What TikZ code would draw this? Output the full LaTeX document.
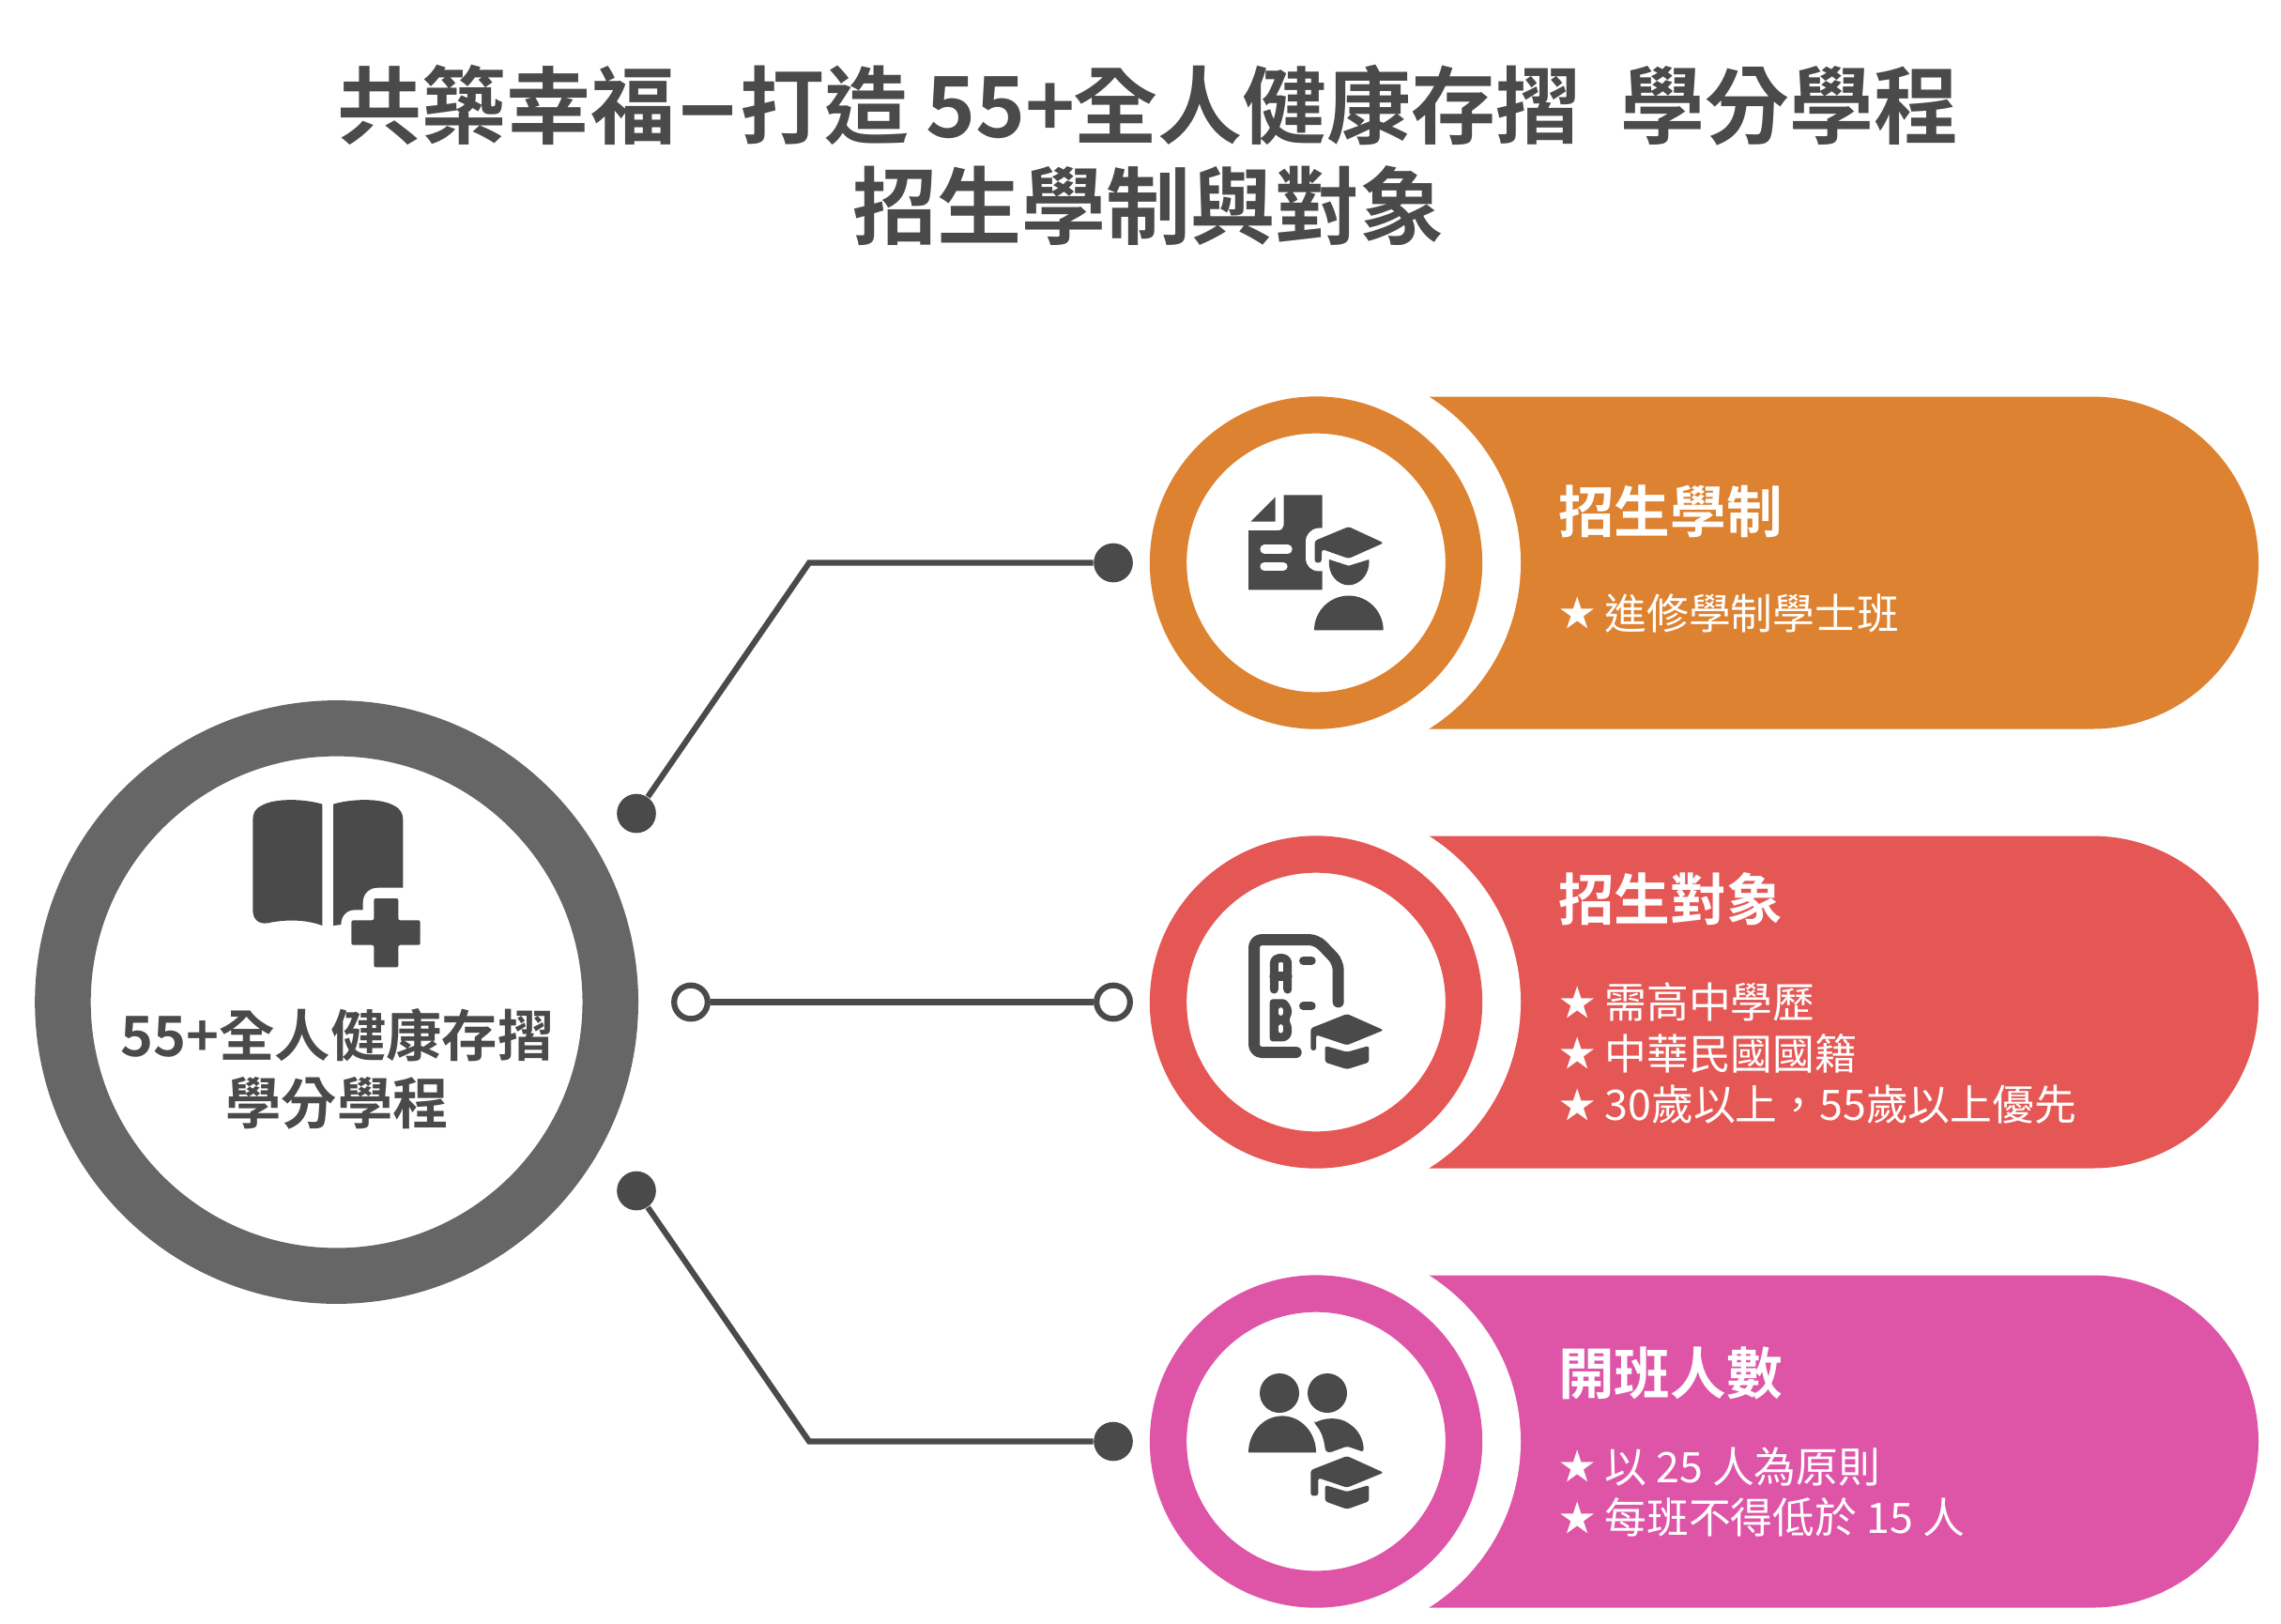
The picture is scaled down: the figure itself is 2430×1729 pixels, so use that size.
\documentclass[tikz,border=0pt]{standalone}
\usepackage{fontspec}
\setmainfont{Noto Sans CJK TC}[BoldFont={Noto Sans CJK TC Bold}]
\newfontfamily\dashfont{Liberation Sans}[BoldFont={Liberation Sans Bold}]
\usepackage{tikz}

\definecolor{inkgray}{HTML}{4A4A4A}
\definecolor{hubgray}{HTML}{666666}
\definecolor{orangerow}{HTML}{DD8230}
\definecolor{redrow}{HTML}{E55754}
\definecolor{pinkrow}{HTML}{DE55A8}

\newcommand{\rowstar}{\raisebox{0.7pt}{\fontsize{11.5}{16.35}\selectfont ★}\hspace{2.85pt}}
\newcommand{\titledash}{\hspace{1.4pt}{\dashfont\fontsize{32}{32}\selectfont –}\hspace{1.4pt}}

\tikzset{
    wire/.style={draw=inkgray, line width=1.85pt},
    dotfull/.style={circle, fill=inkgray, inner sep=0pt, minimum size=12.5pt},
    dotopen/.style={circle, draw=inkgray, fill=white, line width=1.85pt, inner sep=0pt, minimum size=10.7pt},
    hubring/.style={circle, draw=hubgray, fill=white, line width=17.85pt, inner sep=0pt, minimum size=175pt},
    rowring/.style={circle, draw=#1, fill=white, line width=11.8pt, inner sep=0pt, minimum size=94.5pt},
    rowgap/.style={circle, fill=white, inner sep=0pt, minimum size=125.4pt},
    headtext/.style={anchor=west, inner sep=0pt, text=white, font=\fontsize{17.9}{21}\selectfont\bfseries},
    bodytext/.style={anchor=west, inner sep=0pt, text=white, align=left, font=\fontsize{13.44}{16.35}\selectfont},
    titletext/.style={text=inkgray, align=center, font=\fontsize{27}{32.1}\selectfont\bfseries},
    hubtext/.style={text=inkgray, align=center, font=\fontsize{17.8}{21.6}\selectfont\bfseries},
    icon/.style={fill=inkgray},
    iconline/.style={draw=inkgray, line cap=round, line join=round},
}

\begin{document}
\begin{tikzpicture}[x=0.3pt, y=-0.3pt]
    \useasboundingbox (0,0) rectangle (2430,1729);

    \node[titletext] (title) at (1223,165) {共築幸福\titledash 打造\hspace{-0.7pt} 55+\hspace{-0.7pt}全人健康存摺~~\hspace{0.5pt}學分學程\\招生學制與對象};

    % hub
    \node[hubring] (hub) at (358.6,1067.5) {};
    \node[hubtext] (hublabel) at (359,1139) {55+全人健康存摺\\學分學程};

    % pills
    \fill[orangerow] (1402,422.5) -- (2229,422.5) arc[start angle=-90, end angle=90, radius=177] -- (1402,776.5) -- cycle;
    \fill[redrow] (1402,890.5) -- (2229,890.5) arc[start angle=-90, end angle=90, radius=177] -- (1402,1244.5) -- cycle;
    \fill[pinkrow] (1402,1358.5) -- (2229,1358.5) arc[start angle=-90, end angle=90, radius=177] -- (1402,1712.5) -- cycle;

    \node[rowgap] (gapA) at (1411,599.5) {};
    \node[rowgap] (gapB) at (1411,1067.5) {};
    \node[rowgap] (gapC) at (1411,1535.5) {};

    \node[rowring=orangerow] (ringA) at (1402,599.5) {};
    \node[rowring=redrow] (ringB) at (1402,1067.5) {};
    \node[rowring=pinkrow] (ringC) at (1402,1535.5) {};

    % connectors
    \node[dotfull] (startA) at (678,866.5) {};
    \coordinate (bendA) at (862,599.5);
    \node[dotfull] (endA) at (1186,599.5) {};
    \draw[wire] (startA) -- (bendA) -- (endA);

    \node[dotopen] (startB) at (736,1067.5) {};
    \node[dotopen] (endB) at (1186,1067.5) {};
    \draw[wire] (startB) -- (endB);

    \node[dotfull] (startC) at (678,1268.5) {};
    \coordinate (bendC) at (862,1535.5);
    \node[dotfull] (endC) at (1186,1535.5) {};
    \draw[wire] (startC) -- (bendC) -- (endC);

    % row texts
    \node[headtext] (headA) at (1659.5,545) {招生學制};
    \node[bodytext] (bodyA) at (1661,653) {\rowstar 進修學制學士班};

    \node[headtext] (headB) at (1659.5,958) {招生對象};
    \node[bodytext] (bodyB) at (1661,1122) {\rowstar 需高中學歷\\\rowstar 中華民國國籍\\\rowstar 30歲以上，55歲以上優先};

    \node[headtext] (headC) at (1659.5,1462.5) {開班人數};
    \node[bodytext] (bodyC) at (1661,1589.5) {\rowstar 以 25 人為原則\\\rowstar 每班不得低於 15 人};

    % book icon
    \begin{scope}[shift={(240,830)}, x=0.1pt, y=-0.1pt]
        \fill[icon] (310,80) .. controls (260,64) and (160,58) .. (115,85) .. controls (95,95) and (88,110) .. (88,130) -- (88,420) .. controls (88,445) and (105,465) .. (135,460) .. controls (180,450) and (250,445) .. (310,468) -- cycle;
        \fill[icon] (345,80) .. controls (395,64) and (495,58) .. (540,85) .. controls (560,95) and (568,110) .. (568,130) -- (568,440) -- (345,468) -- cycle;
        \fill[white] (370,500) -- (370,462) .. controls (372,435) and (390,418) .. (415,418) -- (440,418) -- (440,392) .. controls (442,365) and (460,347) .. (490,347) -- (640,347) -- (640,640) -- (440,640) -- (440,500) -- cycle;
        \fill[icon, rounded corners=0.6pt] (475,381) -- (553,381) -- (553,451) -- (623,451) -- (623,530) -- (553,530) -- (553,601) -- (475,601) -- (475,530) -- (403,530) -- (403,451) -- (475,451) -- cycle;
    \end{scope}

    % document and graduate icon
    \begin{scope}[shift={(1280,500)}, x=0.1pt, y=-0.1pt]
        \fill[icon] (263,82) -- (386,82) -- (386,385) -- (150,385) -- (150,195) -- (245,195) .. controls (255,195) and (263,187) .. (263,178) -- cycle;
        \fill[icon] (157,167) -- (236,167) -- (236,88) -- cycle;
        \draw[white, line width=2.8pt, line cap=round] (201,255) -- (276,255);
        \draw[white, line width=2.8pt, line cap=round] (201,310) -- (261,310);
        \fill[white, rounded corners=4pt] (420,185) -- (333,190) -- (333,325) -- (420,325) -- cycle;
        \fill[icon, rounded corners=0.8pt] (362,228) -- (470,183) -- (582,235) -- (470,285) -- (385,255) -- (383,298) -- (362,298) -- cycle;
        \fill[icon] (408,288) -- (470,308) -- (535,288) .. controls (540,335) and (505,370) .. (470,370) .. controls (435,370) and (402,335) .. (408,288) -- cycle;
        \fill[icon] (360,514) arc[start angle=180, end angle=360, radius=110.5] -- cycle;
    \end{scope}

    % sheet with letters and cap icon
    \begin{scope}[shift={(1280,970)}, x=0.1pt, y=-0.1pt]
        \draw[iconline, line width=3.6pt, rounded corners=2.5pt] (302,453) -- (168,453) -- (168,93) -- (368,93) -- (437,165) -- (437,292);
        \draw[iconline, line width=2.7pt, rounded corners=1.5pt] (232,252) -- (232,152) -- (275,152) -- (275,252);
        \draw[iconline, line width=3pt] (232,210) -- (275,210);
        \fill[icon, rounded corners=1pt] (218,283) -- (270,283) -- (288,310) -- (288,335) -- (278,350) -- (288,365) -- (288,400) -- (270,418) -- (218,418) -- cycle;
        \draw[white, line width=1.7pt, line cap=round] (253,318) -- (253,327);
        \draw[white, line width=1.7pt, line cap=round] (253,372) -- (253,383);
        \draw[iconline, line width=2.6pt] (325,160) -- (352,160);
        \draw[iconline, line width=2.6pt] (325,305) -- (352,305);
        \fill[icon, rounded corners=0.8pt] (349,376) -- (465,330) -- (582,382) -- (465,430) -- (366,397) -- (366,447) -- (349,447) -- cycle;
        \fill[icon, rounded corners=0.8pt] (395,432) -- (465,452) -- (535,432) -- (535,485) -- (465,507) -- (395,485) -- cycle;
    \end{scope}

    % two people and cap icon
    \begin{scope}[shift={(1280,1440)}, x=0.1pt, y=-0.1pt]
        \fill[icon] (249,132) circle (63);
        \fill[icon] (402,132) circle (63);
        \fill[icon] (150,322) arc[start angle=180, end angle=360, x radius=108, y radius=117] -- cycle;
        \fill[icon, rounded corners=0.8pt] (360,228) .. controls (395,210) and (440,208) .. (475,232) .. controls (505,255) and (518,285) .. (518,320) -- (465,302) -- (410,322) -- (396,318) .. controls (392,285) and (385,255) .. (360,228) -- cycle;
        \fill[icon, rounded corners=0.8pt] (349,378) -- (465,333) -- (582,386) -- (465,434) -- (373,403) -- (373,460) -- (349,460) -- cycle;
        \fill[icon, rounded corners=0.8pt] (395,426) -- (465,447) -- (535,426) -- (535,478) -- (465,503) -- (395,478) -- cycle;
    \end{scope}
\end{tikzpicture}
\end{document}
